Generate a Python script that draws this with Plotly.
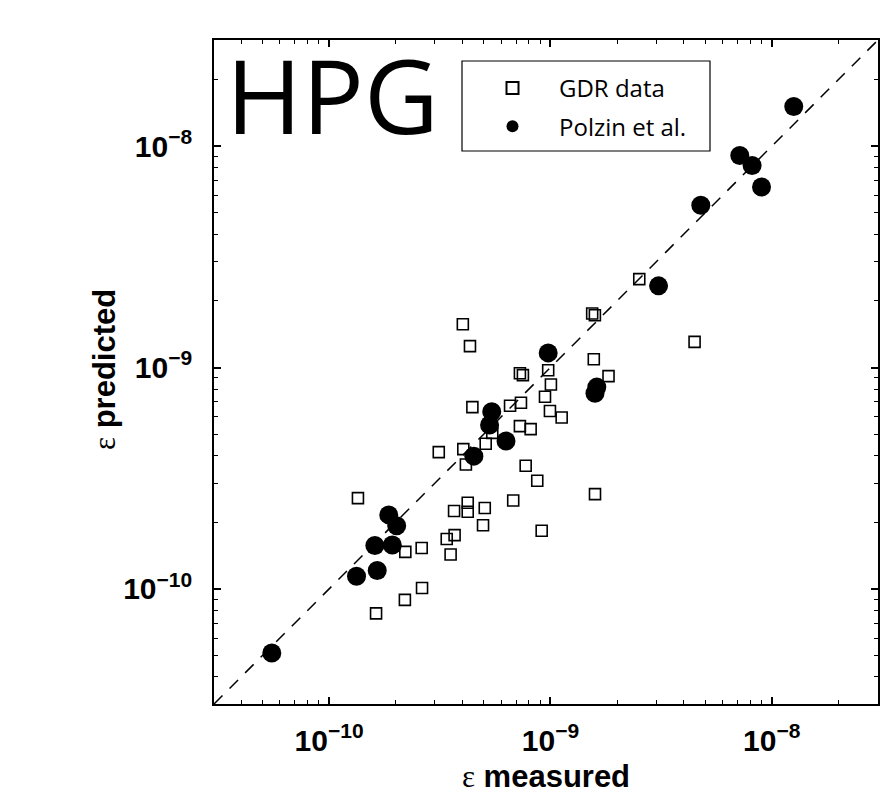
import numpy as np
import plotly.graph_objects as go

# GDR data (open squares): measured, predicted
gdr_measured = [4.02e-10, 4.33e-10, 4.44e-10, 5.46e-10, 5.10e-10, 3.13e-10, 4.04e-10, 4.15e-10,
                1.35e-10, 3.67e-10, 4.23e-10, 4.23e-10, 5.05e-10, 4.96e-10, 3.40e-10, 3.69e-10,
                3.54e-10, 2.21e-10, 2.62e-10, 2.63e-10, 2.20e-10, 1.63e-10, 1.57e-9, 7.28e-10,
                7.51e-10, 9.77e-10, 1.83e-9, 1.005e-9, 9.45e-10, 7.36e-10, 6.57e-10, 9.95e-10,
                1.124e-9, 7.28e-10, 8.14e-10, 7.73e-10, 8.72e-10, 6.79e-10, 1.59e-9, 9.13e-10,
                2.52e-9, 1.544e-9, 1.588e-9, 4.48e-9]
gdr_predicted = [1.57e-9, 1.25e-9, 6.63e-10, 5.07e-10, 4.53e-10, 4.15e-10, 4.28e-10, 3.65e-10,
                 2.57e-10, 2.25e-10, 2.45e-10, 2.23e-10, 2.32e-10, 1.94e-10, 1.68e-10, 1.75e-10,
                 1.43e-10, 1.47e-10, 1.53e-10, 1.01e-10, 8.92e-11, 7.75e-11, 1.09e-9, 9.43e-10,
                 9.24e-10, 9.73e-10, 9.15e-10, 8.39e-10, 7.38e-10, 6.93e-10, 6.72e-10, 6.36e-10,
                 5.95e-10, 5.44e-10, 5.27e-10, 3.60e-10, 3.08e-10, 2.51e-10, 2.68e-10, 1.83e-10,
                 2.51e-9, 1.754e-9, 1.724e-9, 1.306e-9]

# Polzin et al. (filled circles)
polzin_measured = [5.51e-11, 1.33e-10, 1.65e-10, 1.61e-10, 1.93e-10, 1.86e-10, 2.02e-10, 4.51e-10,
                   6.30e-10, 5.31e-10, 5.43e-10, 9.77e-10, 1.62e-9, 1.59e-9, 3.08e-9, 4.78e-9,
                   8.99e-9, 7.17e-9, 8.15e-9, 1.257e-8]
polzin_predicted = [5.13e-11, 1.14e-10, 1.21e-10, 1.57e-10, 1.58e-10, 2.16e-10, 1.93e-10, 3.98e-10,
                    4.66e-10, 5.50e-10, 6.31e-10, 1.165e-9, 8.16e-10, 7.66e-10, 2.34e-9, 5.41e-9,
                    6.54e-9, 9.09e-9, 8.19e-9, 1.512e-8]

# axis limits (log10) and ticks
axis_range = [-10.52, -7.52]
major_ticks = [1e-10, 1e-9, 1e-8]
major_labels = ["10<sup>−10</sup>", "10<sup>−9</sup>", "10<sup>−8</sup>"]
minor_ticks = [m * 10.0 ** e for e in (-11, -10, -9, -8) for m in range(2, 10)]

line_pts = [10 ** axis_range[0], 10 ** axis_range[1]]

fig = go.Figure()
fig.add_trace(go.Scatter(x=line_pts, y=line_pts, mode="lines",
                         line=dict(color="black", width=1.5, dash="12px,10px"),
                         showlegend=False, hoverinfo="skip"))
fig.add_trace(go.Scatter(x=gdr_measured, y=gdr_predicted, mode="markers", name="GDR data",
                         legendgroup="a",
                         marker=dict(symbol="square-open", size=11, color="black",
                                     line=dict(width=1.6, color="black"))))
fig.add_trace(go.Scatter(x=polzin_measured, y=polzin_predicted, mode="markers",
                         name="Polzin et al.", legendgroup="b",
                         marker=dict(symbol="circle", size=19, color="black",
                                     line=dict(width=0))))

tickfont = dict(family="Liberation Sans, Arial", size=30, color="black", weight="bold")
common = dict(type="log", range=axis_range, tickmode="array", tickvals=major_ticks,
              ticktext=major_labels, ticks="inside", ticklen=7, tickwidth=1.5,
              tickcolor="black", showline=True, linecolor="black", linewidth=1.6,
              mirror="allticks", showgrid=False, zeroline=False, tickfont=tickfont,
              automargin=False,
              minor=dict(tickmode="array", tickvals=minor_ticks, ticks="inside",
                         ticklen=4, tickwidth=1.2, tickcolor="black", showgrid=False))

eps = '<span style="font-family:Liberation Serif;font-weight:normal">ε</span>'
titlefont = dict(family="Liberation Sans, Arial", size=31, color="black")
fig.update_xaxes(**common, ticklabelstandoff=9,
                 title=dict(text=eps + " <b>measured</b>", standoff=10, font=titlefont))
fig.update_yaxes(**common, ticklabelstandoff=14)

# page is drawn with an 8px body margin; compensate so the plot box sits at 214..878 x 40..704
OFF = 8
W, H = 891 - OFF, 801 - OFF
L, R, T, B = 214 - OFF, 13, 40 - OFF, 97
pw, ph = W - L - R, H - T - B

def px(x):
    return (x - 214) / pw

def py(y):
    return (704 - y) / ph

fig.add_annotation(text=eps + " <b>predicted</b>", xref="paper", yref="paper",
                   x=px(104), y=py(370), xanchor="center", yanchor="middle",
                   textangle=-90, showarrow=False, font=titlefont)

fig.add_shape(type="rect", xref="paper", yref="paper",
              x0=px(462), x1=px(710), y0=py(151), y1=py(61),
              line=dict(color="black", width=1.2), fillcolor="white", layer="above")

fig.add_annotation(text="HPG", xref="paper", yref="paper", x=px(224), y=py(94),
                   xanchor="left", yanchor="middle", showarrow=False,
                   font=dict(family="Open Sans", size=103, color="black"))

fig.update_layout(
    width=W, height=H, margin=dict(l=L, r=R, t=T, b=B),
    plot_bgcolor="white", paper_bgcolor="white",
    legend=dict(x=px(466), y=py(66), xanchor="left", yanchor="top",
                bgcolor="rgba(0,0,0,0)", borderwidth=0, itemsizing="constant",
                tracegroupgap=4, itemwidth=83,
                font=dict(family="Open Sans", size=24, color="black")),
)

fig.write_html("out.html")
